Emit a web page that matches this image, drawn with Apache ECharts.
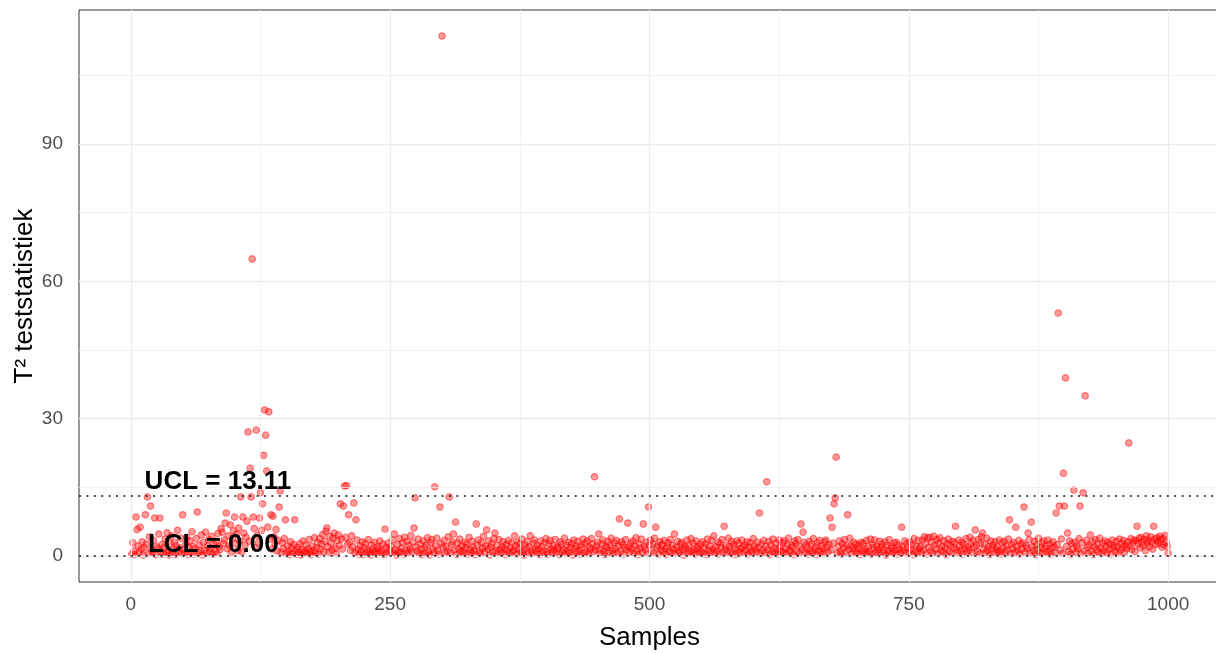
<!DOCTYPE html>
<html>
<head>
<meta charset="utf-8">
<script src="https://cdn.jsdelivr.net/npm/echarts@6/dist/echarts.min.js"></script>
<style>
  html, body { margin: 0; padding: 0; background: #fff; overflow: hidden; }
  #chart { width: 1230px; height: 653px; }
</style>
</head>
<body>
<div id="chart"></div>
<script>
// T² per sample (sample number = position + 1)
const t2Values = [
  0.4, 2.9, 1.1, 0.3, 8.5, 5.8, 2.2, 0.7, 6.3, 1.5,  3.1, 0.2, 1.8, 9.0, 2.6, 12.9, 0.5, 4.2, 10.9, 1.3,
  0.8, 3.4, 8.3, 0.3, 2.0, 1.6, 4.8, 8.3, 0.9, 2.5,  0.4, 1.9, 3.7, 0.6, 5.1, 1.2, 0.2, 2.8, 4.4, 0.7,
  1.5, 3.0, 0.3, 2.2, 5.6, 0.9, 1.8, 3.9, 0.5, 9.0,
  1.4, 0.6, 2.7, 4.1, 0.3, 1.9, 3.3, 0.8, 5.3, 2.1,  0.4, 1.6, 3.8, 9.6, 0.7, 2.4, 1.1, 4.6, 0.2, 3.0,
  1.3, 5.2, 0.6, 2.2, 3.6, 0.9, 1.7, 4.3, 0.4, 2.6,  1.0, 3.2, 0.5, 4.9, 2.0, 1.4, 6.0, 5.2, 2.8, 3.5,
  7.2, 9.4, 1.6, 4.4, 2.3, 6.8, 0.8, 3.9, 5.5, 8.5,
  2.7, 4.8, 1.2, 6.1, 3.3, 12.9, 0.9, 8.5, 5.0, 2.4,  4.1, 7.6, 27.1, 3.2, 19.2, 12.9, 64.9, 8.5, 6.0, 1.8,
  27.5, 4.5, 2.9, 8.3, 13.8, 5.6, 11.4, 22.0, 31.9, 26.4,  18.6, 6.3, 31.5, 3.7, 9.0, 1.5, 8.7, 4.2, 2.6, 5.8,
  1.1, 3.4, 10.7, 14.2, 0.8, 2.9, 1.6, 3.8, 7.9, 0.5,
  2.2, 1.0, 0.3, 3.1, 1.7, 0.6, 2.5, 7.9, 1.3, 0.4,  1.9, 0.8, 2.7, 0.2, 1.4, 3.3, 0.7, 1.1, 2.4, 0.5,
  1.6, 3.6, 0.9, 0.3, 2.1, 1.2, 4.0, 0.6, 1.8, 2.9,  0.4, 3.8, 1.5, 2.6, 4.7, 1.0, 3.2, 5.4, 6.1, 2.0,
  0.8, 4.3, 2.8, 1.3, 3.9, 5.0, 1.7, 0.5, 3.4, 4.6,
  2.3, 11.4, 3.7, 1.5, 10.9, 15.3, 4.1, 15.4, 2.6, 9.0,  3.0, 1.2, 4.4, 2.0, 11.6, 0.7, 7.9, 3.5, 1.4, 0.4,
  2.2, 1.0, 3.1, 0.3, 1.8, 2.7, 0.6, 1.3, 3.6, 0.9,  0.2, 2.4, 1.5, 0.8, 3.0, 1.1, 0.4, 2.0, 1.6, 3.3,
  0.7, 1.2, 2.6, 0.3, 5.9, 1.9, 0.5, 2.8, 1.4, 0.9,
  2.1, 3.5, 0.6, 4.8, 1.3, 0.2, 2.5, 1.0, 3.8, 0.8,  1.7, 2.9, 0.4, 4.1, 1.2, 3.2, 0.7, 2.3, 1.5, 4.5,
  0.9, 3.0, 6.1, 12.7, 2.0, 1.1, 3.7, 0.5, 2.6, 1.4,  0.3, 3.3, 1.8, 0.6, 2.4, 4.0, 1.0, 0.2, 2.9, 3.6,
  1.5, 0.7, 15.1, 2.2, 3.9, 1.2, 0.4, 10.7, 2.7, 113.6,
  1.9, 3.4, 0.6, 2.1, 1.0, 4.2, 12.9, 0.8, 2.5, 3.1,  4.8, 1.3, 7.4, 0.3, 2.8, 1.6, 3.7, 0.9, 2.2, 1.1,
  0.5, 3.0, 1.8, 2.6, 0.4, 4.1, 1.4, 0.7, 3.2, 2.0,  1.2, 0.3, 7.0, 2.4, 3.5, 1.0, 0.6, 2.9, 1.7, 4.3,
  0.8, 2.1, 5.7, 1.5, 3.3, 0.2, 1.9, 2.7, 0.9, 3.8,
  5.0, 1.1, 2.3, 0.5, 3.6, 1.4, 0.7, 2.0, 3.1, 1.6,  0.3, 2.5, 1.2, 3.4, 0.6, 1.8, 2.9, 0.9, 1.3, 4.4,
  2.2, 0.4, 3.0, 1.5, 2.6, 0.8, 3.7, 1.0, 0.2, 2.4,  1.7, 3.2, 0.6, 2.0, 4.4, 1.1, 0.5, 2.8, 3.5, 1.4,
  0.9, 2.3, 1.6, 0.3, 3.3, 2.1, 0.7, 1.2, 2.9, 3.8,
  1.0, 0.4, 2.6, 3.4, 1.5, 0.8, 2.2, 1.3, 3.6, 0.6,  2.0, 1.7, 0.3, 3.1, 2.5, 0.9, 1.4, 3.9, 0.5, 2.3,
  1.1, 3.0, 0.7, 1.8, 2.7, 0.2, 3.5, 1.6, 2.1, 0.8,  3.2, 1.2, 0.4, 2.4, 1.9, 3.7, 0.6, 2.8, 1.0, 3.3,
  0.5, 2.0, 1.5, 3.8, 2.6, 0.9, 17.3, 1.3, 2.2, 3.0,
  4.8, 1.4, 0.6, 2.7, 3.5, 1.1, 0.3, 2.1, 1.8, 3.2,  0.8, 2.4, 3.9, 1.2, 0.5, 2.9, 1.6, 3.4, 0.7, 2.2,
  8.1, 1.0, 3.1, 2.5, 0.4, 1.9, 3.6, 1.3, 7.2, 2.0,  0.9, 2.8, 1.5, 3.3, 0.6, 2.3, 4.0, 1.2, 0.3, 2.6,
  1.7, 3.7, 0.8, 7.0, 2.1, 1.4, 3.0, 0.5, 10.7, 2.4,
  3.5, 1.1, 2.7, 0.6, 3.9, 6.3, 1.8, 2.2, 0.4, 3.1,  1.3, 2.5, 0.9, 3.4, 1.6, 0.3, 2.0, 2.9, 1.0, 3.6,
  0.7, 2.3, 1.5, 4.8, 0.5, 1.9, 3.2, 1.2, 0.8, 2.6,  3.0, 1.4, 0.2, 2.1, 1.7, 3.5, 0.6, 2.4, 1.1, 3.8,
  0.9, 2.8, 1.3, 0.4, 3.3, 2.0, 1.6, 0.7, 2.5, 1.0,
  3.1, 0.5, 1.8, 2.6, 0.3, 3.7, 1.2, 2.2, 0.8, 3.4,  1.5, 4.4, 0.6, 2.0, 1.1, 3.0, 0.4, 2.7, 1.9, 3.6,
  0.9, 6.5, 1.4, 2.3, 0.7, 3.9, 2.1, 1.0, 3.2, 0.5,  2.5, 1.7, 0.3, 3.3, 1.2, 2.8, 0.8, 1.6, 3.5, 2.0,
  0.6, 2.4, 1.3, 3.1, 0.4, 1.9, 2.9, 1.1, 0.7, 3.8,
  2.2, 1.5, 0.9, 3.0, 1.8, 9.4, 0.5, 2.6, 1.2, 3.4,  0.7, 2.1, 16.2, 1.4, 3.2, 0.3, 2.4, 1.0, 3.7, 1.7,
  0.6, 2.8, 1.3, 0.4, 3.5, 2.0, 1.1, 2.9, 0.8, 3.3,  1.6, 0.5, 2.5, 3.9, 1.2, 0.9, 2.3, 1.9, 0.3, 3.3,
  2.7, 1.0, 3.6, 0.6, 2.1, 7.0, 1.4, 5.2, 3.0, 0.8,
  2.4, 1.7, 0.4, 3.2, 1.1, 2.6, 0.7, 3.8, 1.5, 2.0,  0.3, 2.9, 1.2, 3.4, 0.8, 2.2, 1.6, 0.5, 3.1, 3.5,
  1.9, 0.9, 2.5, 8.3, 1.3, 6.3, 2.8, 11.4, 12.7, 21.6,  0.6, 2.0, 3.3, 1.0, 0.4, 2.7, 1.8, 3.6, 0.8, 2.3,
  9.0, 1.4, 3.9, 2.2, 0.5, 1.7, 3.0, 1.1, 2.6, 0.7,
  1.6, 2.4, 0.3, 3.0, 1.2, 2.8, 0.9, 1.5, 3.4, 0.6,  2.1, 1.0, 3.7, 0.4, 2.5, 1.8, 3.5, 0.7, 2.0, 1.3,
  0.5, 3.2, 1.9, 2.6, 0.8, 1.4, 3.1, 0.2, 2.3, 1.1,  3.6, 0.6, 2.2, 1.7, 0.9, 2.9, 1.3, 3.0, 0.4, 2.4,
  1.5, 0.7, 6.3, 2.0, 1.2, 3.3, 0.5, 2.7, 1.8, 0.9,
  3.1, 1.4, 2.5, 0.3, 3.8, 1.0, 2.2, 0.6, 3.4, 1.6,  2.0, 0.8, 3.5, 1.3, 4.2, 2.7, 0.4, 3.9, 1.9, 4.1,
  1.1, 3.0, 0.7, 4.3, 2.4, 1.5, 3.6, 0.5, 2.8, 4.0,  1.2, 2.1, 0.9, 3.3, 1.7, 0.3, 2.6, 3.7, 1.0, 2.3,
  0.6, 3.2, 1.8, 2.9, 6.5, 1.4, 0.8, 3.5, 2.2, 1.1,
  3.0, 0.4, 2.5, 1.6, 3.8, 0.9, 2.0, 1.3, 4.1, 2.7,  0.7, 3.4, 1.9, 5.7, 2.3, 1.0, 3.6, 0.5, 2.8, 4.2,
  5.0, 1.5, 2.6, 0.8, 3.9, 1.2, 2.1, 0.3, 3.3, 1.7,  2.4, 0.6, 3.1, 1.4, 2.0, 0.9, 3.5, 1.1, 0.4, 2.9,
  1.8, 3.2, 0.7, 2.2, 1.3, 3.7, 7.9, 0.5, 2.5, 1.6,
  3.0, 0.8, 6.3, 2.1, 1.2, 3.4, 0.4, 2.6, 1.5, 2.9,  10.7, 0.9, 2.3, 1.7, 5.0, 3.6, 0.6, 7.4, 2.0, 1.1,
  3.2, 0.3, 2.4, 1.4, 3.9, 0.7, 1.9, 2.8, 0.5, 3.3,  1.6, 2.2, 0.9, 3.5, 1.0, 2.6, 0.4, 1.8, 3.1, 2.0,
  0.7, 9.4, 2.5, 53.1, 10.9, 1.3, 3.7, 0.6, 18.1, 10.9,
  38.9, 2.1, 5.0, 1.0, 3.3, 0.4, 2.7, 1.5, 14.4, 3.0,  0.8, 2.2, 1.6, 3.8, 10.9, 0.5, 2.9, 13.8, 1.2, 35.0,
  3.4, 1.9, 0.6, 2.4, 4.6, 1.1, 3.1, 0.3, 2.0, 3.6,  1.4, 2.6, 0.9, 3.9, 1.7, 0.5, 2.8, 1.2, 3.3, 2.1,
  0.7, 3.0, 1.5, 2.5, 0.4, 3.5, 1.8, 2.3, 1.0, 3.2,
  2.0, 0.6, 3.7, 1.3, 2.7, 1.9, 3.4, 0.8, 2.4, 1.6,  3.1, 24.7, 2.2, 3.8, 1.4, 2.9, 3.5, 1.0, 3.3, 6.5,
  2.6, 3.9, 1.8, 4.1, 3.0, 2.3, 3.6, 1.2, 4.4, 2.8,  3.4, 2.0, 4.2, 3.1, 1.5, 6.5, 3.7, 2.5, 4.0, 3.2,
  2.7, 4.3, 3.6, 1.9, 3.8, 2.4, 4.5, 3.0, 2.1, 0.6
];

const limitNames = ['UCL', 'LCL'];
const limitValues = [13.11, 0.00];

const xTicks = [0, 250, 500, 750, 1000];
const xMinorGrid = [125, 375, 625, 875];
const yTicks = [0, 30, 60, 90];
const yMinorGrid = [15, 45, 75, 105];

const points = t2Values.map((v, i) => [i + 1, v]);

const chart = echarts.init(document.getElementById('chart'));
const font = 'Liberation Sans, Arial, sans-serif';

const gridLine = (w) => ({ color: '#ebebeb', width: w, type: 'solid' });
const gridMarks = [
  ...xMinorGrid.map((v) => ({ xAxis: v, lineStyle: gridLine(0.7) })),
  ...yMinorGrid.map((v) => ({ yAxis: v, lineStyle: gridLine(0.7) })),
  ...xTicks.map((v) => ({ xAxis: v, lineStyle: gridLine(1.3) })),
  ...yTicks.map((v) => ({ yAxis: v, lineStyle: gridLine(1.3) })),
];

// label anchor points (sample, T²) where the two annotations sit
const labelAnchors = [[84, 16.2], [79.5, 2.4]];

chart.setOption({
  backgroundColor: '#fff',
  animation: false,
  grid: {
    left: 79, top: 10, width: 1141, height: 572,
    outerBoundsMode: 'none', containLabel: false,
    show: true, borderColor: '#333', borderWidth: 1, backgroundColor: 'transparent',
  },
  xAxis: {
    type: 'value',
    min: -49.95, max: 1049.95,
    name: 'Samples', nameLocation: 'middle', nameGap: 43, nameMoveOverlap: false,
    nameTextStyle: { color: '#000', fontSize: 26, fontFamily: font },
    axisLine: { show: false },
    axisTick: { show: true, customValues: xTicks, length: 5, lineStyle: { color: '#333', width: 1 } },
    axisLabel: {
      customValues: xTicks, color: '#4d4d4d', fontSize: 19, margin: 13, fontFamily: font,
      formatter: (v) => String(v),
    },
    splitLine: { show: false },
  },
  yAxis: {
    type: 'value',
    min: -5.68, max: 119.3,
    name: 'T² teststatistiek', nameLocation: 'middle', nameGap: 41, nameRotate: 90,
    nameMoveOverlap: false,
    nameTextStyle: { color: '#000', fontSize: 26, fontFamily: font },
    axisLine: { show: false },
    axisTick: { show: true, customValues: yTicks, length: 5, lineStyle: { color: '#333', width: 1 } },
    axisLabel: {
      customValues: yTicks, color: '#4d4d4d', fontSize: 19, margin: 16, fontFamily: font,
      formatter: (v) => String(v),
    },
    splitLine: { show: false },
  },
  series: [
    {
      name: 'grid', type: 'scatter', data: [], z: 0, silent: true,
      markLine: { silent: true, symbol: 'none', label: { show: false }, data: gridMarks },
    },
    {
      name: 'T2', type: 'scatter', z: 2,
      symbol: 'circle', symbolSize: 6.5,
      itemStyle: { color: 'rgba(255,0,0,0.5)', borderColor: 'rgba(255,0,0,0.55)', borderWidth: 1.2 },
      data: points,
    },
    {
      name: 'limits', type: 'scatter', data: [], z: 3, silent: true,
      markLine: {
        silent: true, symbol: 'none', label: { show: false },
        lineStyle: { color: '#111', width: 1.5, type: [2, 5.4] },
        data: limitValues.map((v) => ({ yAxis: v })),
      },
      markPoint: {
        symbol: 'circle', symbolSize: 0,
        label: { show: true, color: '#000', fontSize: 26, fontWeight: 'bold', fontFamily: font },
        data: limitNames.map((n, i) => ({
          coord: labelAnchors[i],
          label: { formatter: n + ' = ' + limitValues[i].toFixed(2) },
        })),
      },
    },
  ],
});
</script>
</body>
</html>
